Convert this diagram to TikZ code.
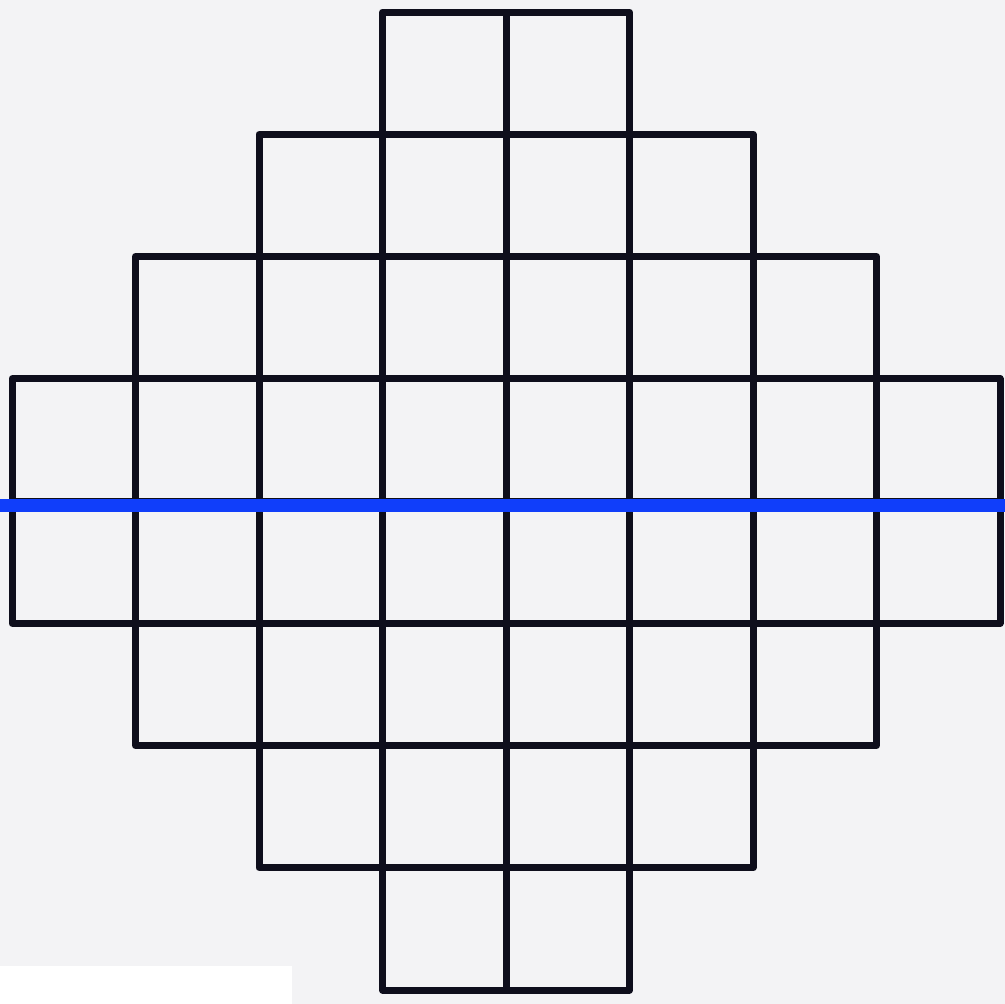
\documentclass[tikz,border=0pt]{standalone}
\usepackage{tikz}
\usetikzlibrary{calc}

\definecolor{paper}{RGB}{243,243,245}
\definecolor{ink}{RGB}{14,14,28}
\definecolor{cutline}{RGB}{16,62,250}

\begin{document}
\begin{tikzpicture}[x=1pt, y=-1pt,
    cell/.style={draw=ink, line width=7pt, line join=round, line cap=round}]
    \useasboundingbox (0,0) rectangle (1005,1004);
    \fill[paper] (0,0) rectangle (1005,1004);
    \fill[white] (0,966) rectangle (292,1004);
    % rows of squares, half-width per row
    \foreach \w [count=\j from 0] in {1,2,3,4,4,3,2,1}{
      \foreach \i in {1,...,\w}{
        \draw[cell] ({506-123.5*\i}, {12+122.25*\j}) rectangle ++(123.5,122.25);
        \draw[cell] ({506+123.5*(\i-1)}, {12+122.25*\j}) rectangle ++(123.5,122.25);
      }
    }
    \draw[cutline, line width=13pt] (0,505) -- (1005,505);
  \end{tikzpicture}
\end{document}
